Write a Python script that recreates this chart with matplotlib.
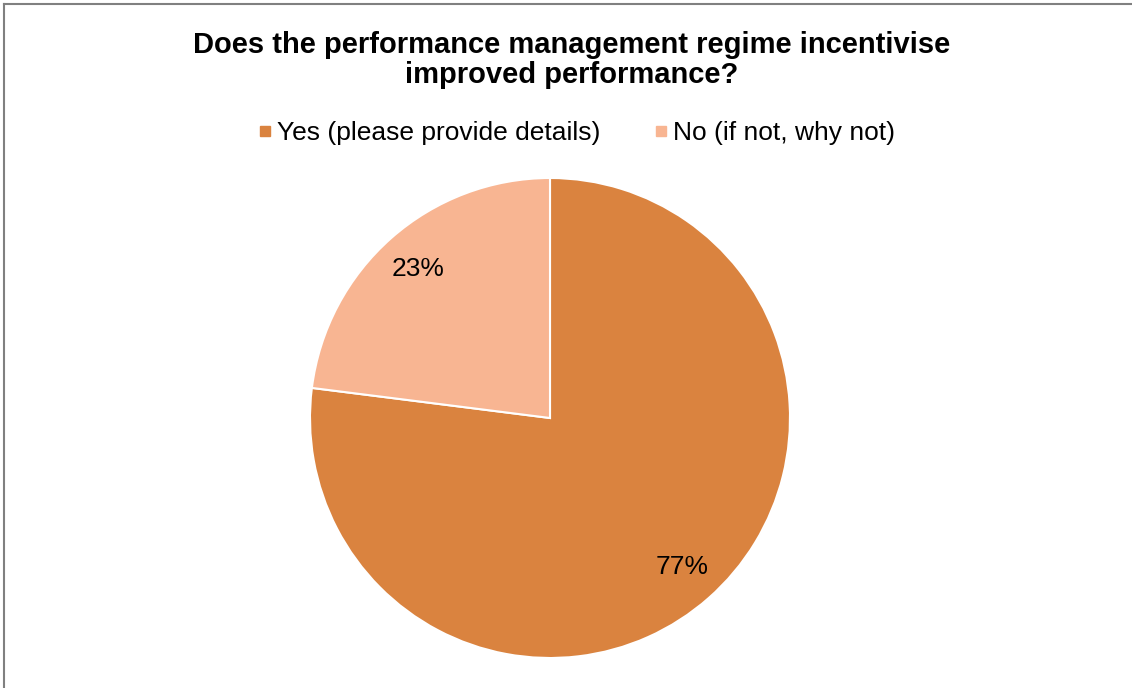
import matplotlib.pyplot as plt
from matplotlib.lines import Line2D

plt.rcParams['font.family'] = ['Liberation Sans', 'DejaVu Sans']

labels = ['Yes (please provide details)', 'No (if not, why not)']
shares = [77, 23]
colours = ['#DA833F', '#F8B592']

W, H = 1132, 688
fig = plt.figure(figsize=(W / 100, H / 100), dpi=100)

# pie centred at (550, 418) px with radius 240 px
cx, cy, r = 550, 418, 240
ax = fig.add_axes([(cx - r) / W, (H - cy - r) / H, 2 * r / W, 2 * r / H])
wedges, texts, autotexts = ax.pie(
    shares, colors=colours, startangle=90, counterclock=False,
    autopct='%1.0f%%', pctdistance=0.83,
    wedgeprops=dict(edgecolor='white', linewidth=1.5),
    textprops=dict(fontsize=19, color='black'))
ax.set_xlim(-1, 1)
ax.set_ylim(-1, 1)
ax.set_aspect('equal')

fig.text(572 / W, 1 - 45 / H, 'Does the performance management regime incentivise',
         ha='center', va='center', fontsize=21, fontweight='bold')
fig.text(572 / W, 1 - 75 / H, 'improved performance?',
         ha='center', va='center', fontsize=21, fontweight='bold')

handles = [Line2D([], [], marker='s', linestyle='none', markersize=7,
                  markerfacecolor=c, markeredgecolor=c) for c in colours]
fig.legend(handles, labels, loc='center', bbox_to_anchor=(576 / W, 1 - 133 / H),
           ncol=2, frameon=False, fontsize=19, handletextpad=0.15,
           columnspacing=2.0, handlelength=0.6)

# chart border: only left and top edges visible
fig.add_artist(Line2D([3.5 / W, 3.5 / W], [0, 1 - 3.5 / H], transform=fig.transFigure,
                      color='#808080', linewidth=1.5))
fig.add_artist(Line2D([3.5 / W, 1], [1 - 3.5 / H, 1 - 3.5 / H], transform=fig.transFigure,
                      color='#808080', linewidth=1.5))

fig.savefig('out.png', dpi=100)
